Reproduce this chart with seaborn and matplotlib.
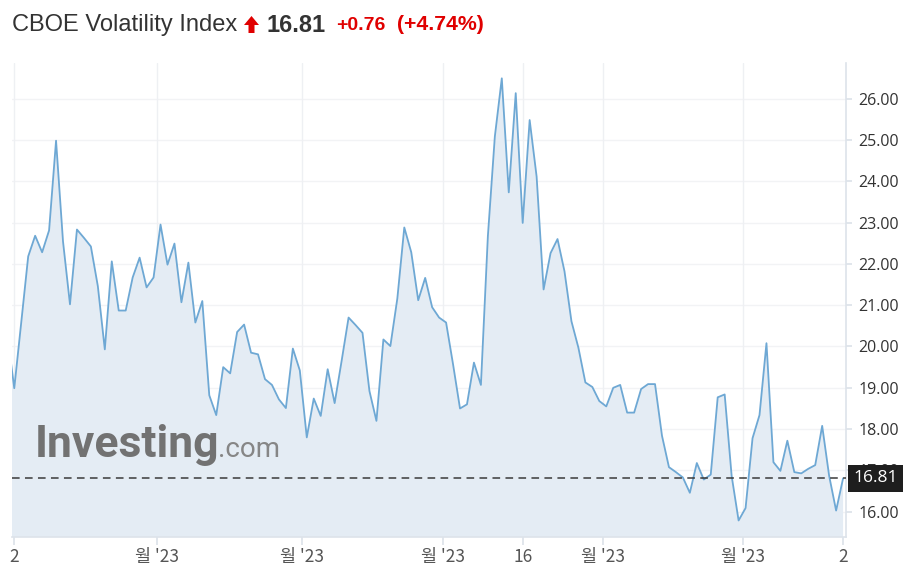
import numpy as np
import pandas as pd
import seaborn as sns
import matplotlib.pyplot as plt
from matplotlib.patches import Polygon

# daily closes (index 0 sits just left of the visible area)
vix = [20.30, 18.99, 20.58, 22.18, 22.68, 22.28, 22.81, 24.98, 22.54, 21.02,
       22.83, 22.63, 22.42, 21.46, 19.93, 22.06, 20.87, 20.87, 21.67, 22.15,
       21.43, 21.67, 22.95, 21.98, 22.49, 21.07, 22.03, 20.58, 21.10, 18.82,
       18.34, 19.50, 19.35, 20.35, 20.53, 19.85, 19.81, 19.21, 19.07, 18.72,
       18.51, 19.95, 19.42, 17.80, 18.74, 18.32, 19.45, 18.63, 19.65, 20.70,
       20.52, 20.33, 18.92, 18.20, 20.17, 20.01, 21.16, 22.88, 22.28, 21.12,
       21.66, 20.95, 20.70, 20.58, 19.57, 18.50, 18.60, 19.61, 19.07, 22.67,
       25.08, 26.49, 23.73, 26.13, 22.99, 25.48, 24.11, 21.38, 22.26, 22.60,
       21.82, 20.61, 19.97, 19.13, 19.02, 18.68, 18.55, 19.00, 19.07, 18.40,
       18.40, 18.97, 19.09, 19.09, 17.84, 17.08, 16.96, 16.83, 16.46, 17.18,
       16.78, 16.90, 18.77, 18.84, 16.87, 15.79, 16.09, 17.78, 18.34, 20.08,
       17.20, 16.99, 17.72, 16.96, 16.93, 17.04, 17.13, 18.08, 16.87, 16.03,
       16.81]
last_price = 16.81
tick_pos = [1, 21.5, 42.3, 62.5, 74, 85.5, 105.6, 120]
tick_labels = ["2", "월 '23", "월 '23", "월 '23", "16", "월 '23", "월 '23", "2"]
y_ticks = [16, 17, 18, 19, 20, 21, 22, 23, 24, 25, 26]

df = pd.DataFrame({"day": np.arange(len(vix)), "close": vix})

sns.set_theme(style="white")
plt.rcParams['font.family'] = ['Open Sans', 'Noto Sans CJK KR', 'DejaVu Sans']

fig = plt.figure(figsize=(9.14, 5.75), dpi=100)
ax = fig.add_axes([12 / 914, 1 - 537 / 575, (846 - 12) / 914, (537 - 63) / 575])

line_color = '#6ea8d4'
ax.fill_between(df['day'], df['close'], 10, color='#e4ecf4', zorder=1, lw=0)
sns.lineplot(data=df, x='day', y='close', ax=ax, color=line_color, lw=1.3, zorder=3)

ax.set_xlim(0.675, 120.42)
ax.set_ylim(15.39, 26.86)

# grid
for v in y_ticks:
    ax.axhline(v, color='#f2f3f5', lw=1, zorder=0.5)
for p in tick_pos[:-1]:
    ax.axvline(p, color='#eef0f3', lw=1, zorder=0.5)

ax.axhline(last_price, color='#3a3a3a', lw=1.1, ls=(0, (5, 3.5)), zorder=4)

ax.yaxis.tick_right()
ax.set_yticks(y_ticks)
ax.set_yticklabels([f"{v:.2f}" for v in y_ticks], fontsize=11.5, color='#333333')
ax.tick_params(axis='y', length=4, color='#dde3ea', pad=5, right=True)
ax.set_xticks(tick_pos)
ax.set_xticklabels(tick_labels, fontsize=12.5, color='#555555',
                   family=['Noto Sans CJK KR', 'DejaVu Sans'])
ax.tick_params(axis='x', length=6, color='#dde3ea', pad=2, bottom=True)
ax.set_xlabel('')
ax.set_ylabel('')

for s in ['left', 'top']:
    ax.spines[s].set_visible(False)
for s in ['right', 'bottom']:
    ax.spines[s].set_color('#dde3ea')
    ax.spines[s].set_linewidth(1.2)

# last price box (covers the 17.00 label, as in the source)
ax.text(1.009, (last_price - 15.39) / (26.86 - 15.39), f"{last_price:.2f}",
        transform=ax.transAxes, ha='left', va='center', fontsize=12.5,
        color='white', zorder=10,
        bbox=dict(boxstyle='square,pad=0.3', fc='#1e1e1e', ec='none'))

# watermark
ax.text(0.0276, 0.169, "Investing", transform=ax.transAxes, fontsize=32,
        fontweight='bold', color='#727272', family='Roboto',
        ha='left', va='baseline', zorder=2)
ax.text(0.247, 0.169, ".com", transform=ax.transAxes, fontsize=20,
        color='#868686', family='Roboto',
        ha='left', va='baseline', zorder=2)

# header
fig.text(12 / 914, 1 - 25 / 575, "CBOE Volatility Index", fontsize=17,
         color='#333333', family='Liberation Sans', va='center', ha='left')
arrow = Polygon([[251.5, 16], [244, 25], [248.5, 25], [248.5, 33],
                 [254.5, 33], [254.5, 25], [259, 25]], closed=True,
                facecolor='#e00000', edgecolor='none')
arrow.set_transform(fig.transFigure)
arrow.set_xy(np.array([[x / 914, 1 - y / 575] for x, y in arrow.get_xy()]))
fig.patches.append(arrow)
fig.text(267 / 914, 1 - 25 / 575, "16.81", fontsize=17, fontweight='bold',
         color='#333333', family='Liberation Sans', va='center', ha='left')
fig.text(336 / 914, 1 - 25 / 575, "+0.76", fontsize=14, fontweight='bold',
         color='#e00000', family='Liberation Sans', va='center', ha='left')
fig.text(397 / 914, 1 - 25 / 575, "(+4.74%)", fontsize=15.3, fontweight='bold',
         color='#e00000', family='Liberation Sans', va='center', ha='left')

fig.savefig('out.png', dpi=100)
